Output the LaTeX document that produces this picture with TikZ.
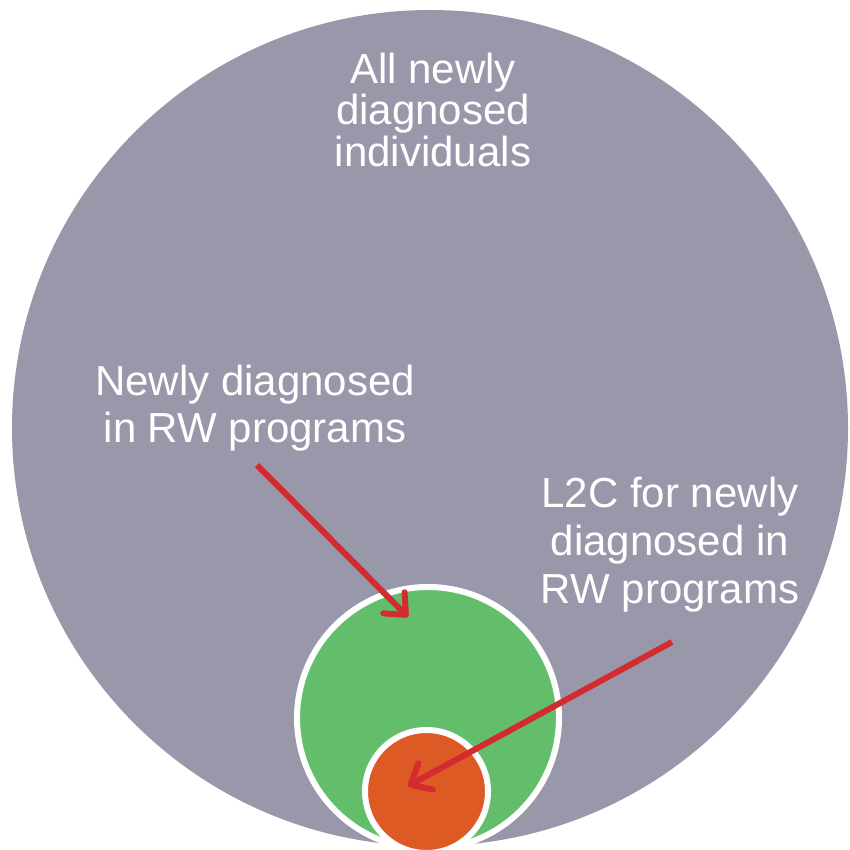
\documentclass[tikz,border=0pt]{standalone}
\usepackage{fontspec}
\setmainfont{Liberation Sans}
\usetikzlibrary{arrows.meta}

\definecolor{popgray}{HTML}{9898AA}
\definecolor{rwgreen}{HTML}{63BE6C}
\definecolor{linkorange}{HTML}{DD5A24}
\definecolor{pointred}{HTML}{D32B30}

\tikzset{
  setdisc/.style={circle, draw=white, line width=6pt, inner sep=0pt},
  label text/.style={text=white, align=center, inner sep=0pt, anchor=north},
  pointer/.style={draw=pointred, line width=6pt,
    -{Straight Barb[length=17pt, width=30pt, line cap=round, line join=round]}}
}

\begin{document}
\begin{tikzpicture}[x=1pt, y=-1pt]
  \useasboundingbox (0,0) rectangle (850,850);

  % population disc and nested subsets
  \node[circle, fill=popgray, inner sep=0pt, minimum size=836pt] (all) at (430,428) {};
  \node[setdisc, fill=rwgreen, minimum size=262pt] (rw) at (428,718) {};
  \node[setdisc, fill=linkorange, minimum size=123pt] (l2c) at (426.5,791.5) {};

  % labels
  \node[label text, font={\fontsize{42}{41.5}\selectfont}] (alltxt) at (433,52.5)
    {All newly\\diagnosed\\individuals};
  \node[label text, font={\fontsize{42}{47}\selectfont}] (rwtxt) at (255,364.5)
    {Newly diagnosed\\in RW programs};
  \node[label text, font={\fontsize{42}{48}\selectfont}] (l2ctxt) at (670,476.5)
    {L2C for newly\\diagnosed in\\RW programs};

  % pointers from labels into the subsets
  \coordinate (rwstart) at (257,465);
  \coordinate (rwtip) at (408,617);
  \coordinate (l2cstart) at (672,642);
  \coordinate (l2ctip) at (408,786);
  \draw[pointer] (rwstart) -- (rwtip);
  \draw[pointer] (l2cstart) -- (l2ctip);
\end{tikzpicture}
\end{document}
